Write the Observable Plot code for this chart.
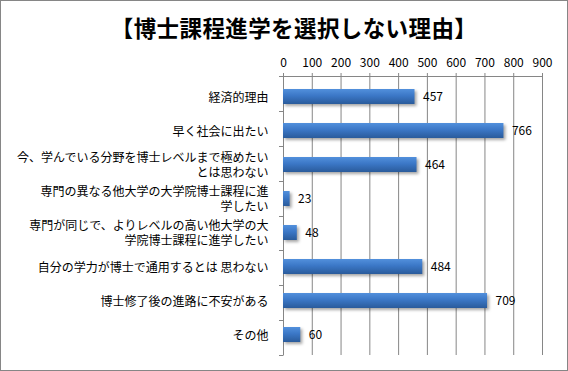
<!DOCTYPE html>
<html><head><meta charset="utf-8">
<script src="https://cdn.jsdelivr.net/npm/d3@7"></script>
<script src="https://cdn.jsdelivr.net/npm/@observablehq/plot@0.6"></script>
<style>
body{margin:0;background:#fff}
#chart{position:relative;width:568px;height:371px;box-sizing:border-box;box-shadow:inset 0 0 0 1px #868686;font-family:"Noto Sans CJK JP",sans-serif;overflow:hidden}
#title{position:absolute;left:0;top:14px;width:588px;text-align:center;font-size:22.5px;line-height:26px;font-weight:bold;letter-spacing:0.4px;color:#000;white-space:nowrap}
#plot{position:absolute;left:0;top:0}
</style>
</head><body>
<div id="chart"><div id="plot"></div><div id="title">【博士課程進学を選択しない理由】</div></div>
<script>
const categories = [
  "経済的理由",
  "早く社会に出たい",
  "今、学んでいる分野を博士レベルまで極めたい\nとは思わない",
  "専門の異なる他大学の大学院博士課程に進\n学したい",
  "専門が同じで、よりレベルの高い他大学の大\n学院博士課程に進学したい",
  "自分の学力が博士で通用するとは 思わない",
  "博士修了後の進路に不安がある",
  "その他"
];
const values = [457, 766, 464, 23, 48, 484, 709, 60];
const xTicks = [0, 100, 200, 300, 400, 500, 600, 700, 800, 900];

const data = categories.map((c, i) => ({category: c, value: values[i]}));

function axisDecor(index, scales, vals, dims) {
  const {width, height, marginTop, marginBottom, marginLeft, marginRight} = dims;
  const g = d3.create("svg:g").attr("stroke", "#868686").attr("fill", "none");
  const step = (height - marginTop - marginBottom) / categories.length;
  g.append("line").attr("x1", marginLeft - 4).attr("x2", width - marginRight + 0.5)
    .attr("y1", marginTop + 0.5).attr("y2", marginTop + 0.5);
  for (let i = 0; i <= categories.length; i++) {
    const y = Math.round(marginTop + i * step) + 0.5;
    g.append("line").attr("x1", marginLeft - 4).attr("x2", marginLeft + 0.5).attr("y1", y).attr("y2", y);
  }
  return g.node();
}

const plot = Plot.plot({
  width: 568,
  height: 371,
  marginTop: 76,
  marginBottom: 16,
  marginLeft: 283,
  marginRight: 26,
  style: {background: "transparent", fontSize: "12px", fontFamily: "'Noto Sans CJK JP', sans-serif", color: "#000"},
  x: {domain: [0, 900], axis: null},
  y: {domain: categories, paddingInner: 0.57, paddingOuter: 0.285, axis: null},
  marks: [
    Plot.gridX(xTicks, {stroke: "#868686", strokeOpacity: 1}),
    Plot.axisX(xTicks, {anchor: "top", tickSize: 4, tickPadding: 6, stroke: "#868686", label: null, fontSize: 12, fill: "#000"}),
    Plot.ruleX([0], {stroke: "#868686"}),
    axisDecor,
    Plot.barX(data, {x: "value", y: "category", fill: "url(#barGrad)"}),
    Plot.text(data, {x: "value", y: "category", text: d => String(d.value), textAnchor: "start", dx: 8, fontSize: 12, fill: "#000"}),
    Plot.text(data, {y: "category", text: "category", frameAnchor: "left", textAnchor: "end", dx: -15, lineHeight: 1.22, fontSize: 12, fill: "#000"})
  ]
});

const svg = d3.select(plot);
const defs = svg.insert("defs", ":first-child");
const grad = defs.append("linearGradient").attr("id", "barGrad").attr("x1", 0).attr("x2", 0).attr("y1", 0).attr("y2", 1);
grad.append("stop").attr("offset", "0%").attr("stop-color", "#5290dc");
grad.append("stop").attr("offset", "45%").attr("stop-color", "#3b77c6");
grad.append("stop").attr("offset", "100%").attr("stop-color", "#2a5b9b");
svg.selectAll("g[aria-label='bar']").style("filter", "drop-shadow(2px 2px 1.5px rgba(0,0,0,0.35))");

document.getElementById("plot").appendChild(plot);
</script>
</body></html>
